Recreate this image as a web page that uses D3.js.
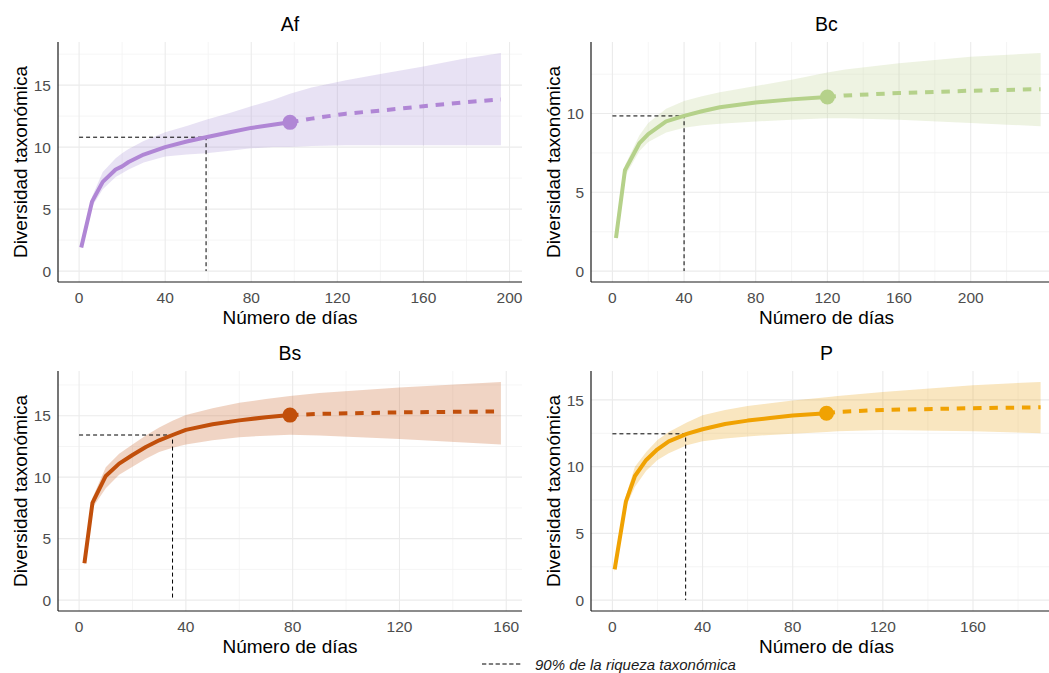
<!DOCTYPE html>
<html>
<head>
<meta charset="utf-8">
<script src="https://cdn.jsdelivr.net/npm/d3@7"></script>
<style>
  body { margin: 0; background: #fff; }
  svg { display: block; font-family: "Liberation Sans", Arial, sans-serif; }
  .tick-label { fill: #4d4d4d; font-size: 15.5px; }
  .axis-title { fill: #000; font-size: 19px; }
  .panel-title { fill: #000; font-size: 19.5px; }
</style>
</head>
<body>
<div class="viz"></div>
<script>
// ---- data (rarefaction / extrapolation curves) ----
var panelNames = ["Af", "Bc", "Bs", "P"];
var panelColors = ["#b086d5", "#b5d18a", "#c14f0b", "#f0a202"];
var ribbonColors = ["#a38bd3", "#bbcf8b", "#c35313", "#e99d05"];
var observedDays = [98, 120, 79, 95];
var cutDays = [59, 40, 35, 32.5];
var cutRichness = [10.8, 9.85, 13.43, 12.46];

var afDays  = [1, 6, 11, 17, 20, 23, 30, 40, 50, 59, 70, 80, 90, 98, 108, 124, 140, 160, 178, 196];
var afMean  = [1.9, 5.6, 7.2, 8.2, 8.45, 8.8, 9.4, 10.0, 10.45, 10.8, 11.2, 11.55, 11.8, 12.0, 12.3, 12.7, 12.95, 13.3, 13.6, 13.85];
var afUpper = [2.0, 6.0, 8.0, 9.1, 9.5, 9.85, 10.5, 11.2, 11.7, 12.2, 12.75, 13.3, 13.8, 14.3, 14.8, 15.4, 15.9, 16.5, 17.1, 17.6];
var afLower = [1.8, 5.2, 6.6, 7.6, 7.9, 8.2, 8.75, 9.25, 9.4, 9.5, 9.7, 9.9, 10.0, 10.0, 10.1, 10.15, 10.15, 10.15, 10.15, 10.15];

var bcDays  = [2, 7, 15, 20, 30, 40, 50, 60, 80, 100, 120, 130, 160, 200, 239];
var bcMean  = [2.1, 6.4, 8.1, 8.7, 9.5, 9.85, 10.15, 10.4, 10.7, 10.9, 11.05, 11.15, 11.3, 11.45, 11.55];
var bcUpper = [2.3, 6.7, 8.6, 9.4, 10.3, 10.8, 11.1, 11.35, 11.75, 12.15, 12.6, 12.8, 13.2, 13.6, 13.85];
var bcLower = [1.9, 6.0, 7.6, 8.2, 8.8, 9.1, 9.25, 9.35, 9.5, 9.6, 9.7, 9.7, 9.6, 9.4, 9.2];

var bsDays  = [2, 5, 10, 15, 20, 25, 30, 35, 40, 50, 60, 70, 79, 90, 120, 158];
var bsMean  = [3.0, 7.9, 10.1, 11.1, 11.8, 12.45, 13.0, 13.43, 13.85, 14.3, 14.62, 14.88, 15.05, 15.15, 15.27, 15.35];
var bsUpper = [3.2, 8.3, 10.8, 11.9, 12.65, 13.4, 14.05, 14.6, 15.05, 15.6, 16.05, 16.35, 16.6, 16.85, 17.3, 17.75];
var bsLower = [2.8, 7.5, 9.1, 10.2, 10.85, 11.5, 12.05, 12.4, 12.65, 13.0, 13.25, 13.38, 13.45, 13.4, 13.1, 12.65];

var pDays  = [1, 6, 10, 15, 20, 25, 33, 40, 50, 60, 70, 80, 95, 100, 120, 160, 190];
var pMean  = [2.3, 7.4, 9.3, 10.5, 11.3, 11.9, 12.45, 12.8, 13.2, 13.45, 13.65, 13.83, 14.0, 14.1, 14.25, 14.38, 14.45];
var pUpper = [2.5, 7.8, 10.0, 11.1, 12.0, 12.6, 13.3, 13.85, 14.25, 14.55, 14.75, 14.95, 15.2, 15.3, 15.6, 16.1, 16.35];
var pLower = [2.1, 7.0, 8.5, 9.7, 10.5, 11.0, 11.6, 11.9, 12.1, 12.26, 12.38, 12.46, 12.6, 12.65, 12.75, 12.65, 12.5];

var xTicksList = [
    [0, 40, 80, 120, 160, 200],
    [0, 40, 80, 120, 160, 200],
    [0, 40, 80, 120, 160],
    [0, 40, 80, 120, 160]
];
var yTicksList = [
    [0, 5, 10, 15],
    [0, 5, 10],
    [0, 5, 10, 15],
    [0, 5, 10, 15]
];

var xLabel = "Número de días";
var yLabel = "Diversidad taxonómica";
var legendLabel = "90% de la riqueza taxonómica";

var allDays = [afDays, bcDays, bsDays, pDays];
var allMean = [afMean, bcMean, bsMean, pMean];
var allUpper = [afUpper, bcUpper, bsUpper, pUpper];
var allLower = [afLower, bcLower, bsLower, pLower];

// ---- layout ----
var width = 1049,
    height = 673,
    colX = [[58, 522], [591, 1062]],
    rowY = [[42, 282], [371, 611]];

var svg = d3.select('.viz').append('svg')
    .attr('width', width)
    .attr('height', height);

function expand(lo, hi) {
    var pad = (hi - lo) * 0.05;
    return [lo - pad, hi + pad];
}

function minorBreaks(ticks, domain) {
    var step = ticks[1] - ticks[0];
    var out = [];
    for (var i = -1; i < ticks.length; i++) {
        var m = ticks[0] + step * i + step / 2;
        if (m > domain[0] && m < domain[1]) out.push(m);
    }
    return out;
}

panelNames.forEach(function(name, i) {
    var col = i % 2,
        row = Math.floor(i / 2),
        left = colX[col][0], right = colX[col][1],
        top = rowY[row][0], bottom = rowY[row][1],
        color = panelColors[i];

    var rows = allDays[i].map(function(d, k) {
        return { day: d, mean: allMean[i][k], lo: allLower[i][k], hi: allUpper[i][k] };
    });

    var xDom = expand(0, d3.max(allDays[i])),
        yDom = expand(0, d3.max(allUpper[i]));

    var x = d3.scaleLinear().domain(xDom).range([left, right]);
    var y = d3.scaleLinear().domain(yDom).range([bottom, top]);

    var g = svg.append('g').attr('class', 'panel panel-' + name);

    // grid
    var xt = xTicksList[i], yt = yTicksList[i];
    g.append('g').selectAll('line.xminor')
        .data(minorBreaks(xt, xDom))
        .enter().append('line')
        .attr('x1', d => x(d)).attr('x2', d => x(d))
        .attr('y1', top).attr('y2', bottom)
        .attr('stroke', '#f2f2f2').attr('stroke-width', 0.8);
    g.append('g').selectAll('line.yminor')
        .data(minorBreaks(yt, yDom))
        .enter().append('line')
        .attr('x1', left).attr('x2', right)
        .attr('y1', d => y(d)).attr('y2', d => y(d))
        .attr('stroke', '#f2f2f2').attr('stroke-width', 0.8);
    g.append('g').selectAll('line.xmajor')
        .data(xt)
        .enter().append('line')
        .attr('x1', d => x(d)).attr('x2', d => x(d))
        .attr('y1', top).attr('y2', bottom)
        .attr('stroke', '#ebebeb').attr('stroke-width', 1.1);
    g.append('g').selectAll('line.ymajor')
        .data(yt)
        .enter().append('line')
        .attr('x1', left).attr('x2', right)
        .attr('y1', d => y(d)).attr('y2', d => y(d))
        .attr('stroke', '#ebebeb').attr('stroke-width', 1.1);

    // confidence ribbon
    var area = d3.area()
        .x(d => x(d.day))
        .y0(d => y(d.lo))
        .y1(d => y(d.hi));
    g.append('path')
        .datum(rows)
        .attr('d', area)
        .attr('fill', ribbonColors[i])
        .attr('fill-opacity', 0.25);

    // 90% richness guide
    var guide = d3.line().x(d => x(d[0])).y(d => y(d[1]));
    g.append('path')
        .datum([[0, cutRichness[i]], [cutDays[i], cutRichness[i]], [cutDays[i], 0]])
        .attr('d', guide)
        .attr('fill', 'none')
        .attr('stroke', '#000')
        .attr('stroke-width', 1)
        .attr('stroke-dasharray', '4,3');

    var line = d3.line().x(d => x(d.day)).y(d => y(d.mean));

    // rarefaction (solid) and extrapolation (dashed)
    g.append('path')
        .datum(rows.filter(d => d.day <= observedDays[i]))
        .attr('d', line)
        .attr('fill', 'none')
        .attr('stroke', color)
        .attr('stroke-width', 4)
        .attr('stroke-linejoin', 'round');
    g.append('path')
        .datum(rows.filter(d => d.day >= observedDays[i]))
        .attr('d', line)
        .attr('fill', 'none')
        .attr('stroke', color)
        .attr('stroke-width', 4)
        .attr('stroke-dasharray', '8.5,7.8');

    var obs = rows.find(d => d.day === observedDays[i]);
    g.append('circle')
        .attr('cx', x(obs.day))
        .attr('cy', y(obs.mean))
        .attr('r', 7.5)
        .attr('fill', color);

    // axis lines
    g.append('line')
        .attr('x1', left).attr('x2', left)
        .attr('y1', top).attr('y2', bottom)
        .attr('stroke', '#1a1a1a').attr('stroke-width', 1.2);
    g.append('line')
        .attr('x1', left).attr('x2', right)
        .attr('y1', bottom).attr('y2', bottom)
        .attr('stroke', '#1a1a1a').attr('stroke-width', 1.2);

    // tick labels
    g.append('g').selectAll('text')
        .data(xt)
        .enter().append('text')
        .attr('class', 'tick-label')
        .attr('x', d => x(d))
        .attr('y', bottom + 21)
        .attr('text-anchor', 'middle')
        .text(d => d);
    g.append('g').selectAll('text')
        .data(yt)
        .enter().append('text')
        .attr('class', 'tick-label')
        .attr('x', left - 7)
        .attr('y', d => y(d))
        .attr('dy', '0.36em')
        .attr('text-anchor', 'end')
        .text(d => d);

    // titles
    g.append('text')
        .attr('class', 'panel-title')
        .attr('x', (left + right) / 2)
        .attr('y', top - 11.5)
        .attr('text-anchor', 'middle')
        .text(name);
    g.append('text')
        .attr('class', 'axis-title')
        .attr('x', (left + right) / 2)
        .attr('y', bottom + 41.5)
        .attr('text-anchor', 'middle')
        .text(xLabel);
    g.append('text')
        .attr('class', 'axis-title')
        .attr('transform', 'translate(' + (left - 31.5) + ',' + ((top + bottom) / 2) + ')rotate(-90)')
        .attr('text-anchor', 'middle')
        .text(yLabel);
});

// legend
var legend = svg.append('g').attr('class', 'legend');
legend.append('line')
    .attr('x1', 482).attr('x2', 522)
    .attr('y1', 664).attr('y2', 664)
    .attr('stroke', '#000')
    .attr('stroke-width', 1)
    .attr('stroke-dasharray', '4.3,2.5');
legend.append('text')
    .attr('x', 535)
    .attr('y', 669.5)
    .attr('font-size', '15px')
    .attr('font-style', 'italic')
    .attr('fill', '#1a1a1a')
    .text(legendLabel);
</script>
</body>
</html>
